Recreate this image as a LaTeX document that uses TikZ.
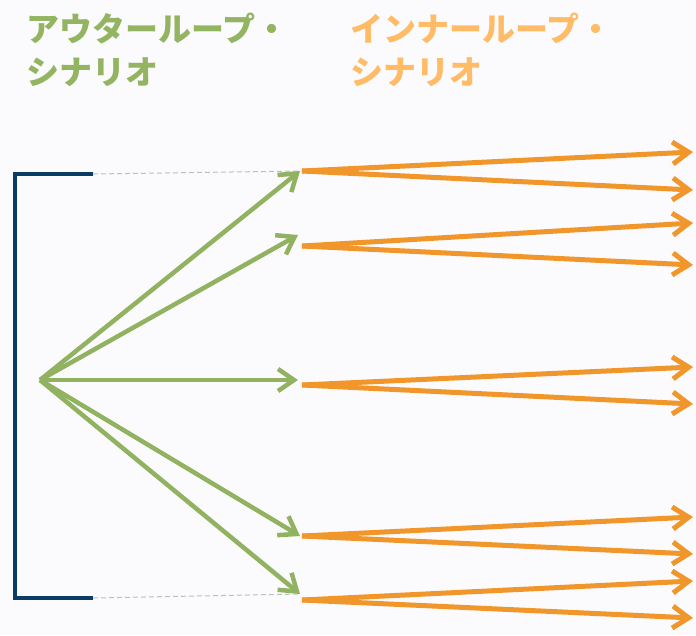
\documentclass[tikz,border=0pt]{standalone}
\usepackage{fontspec}
\newfontfamily\cjk{Noto Sans CJK JP}
\usetikzlibrary{arrows.meta}
\definecolor{bg}{RGB}{251,251,253}
\definecolor{navy}{RGB}{11,60,102}
\definecolor{ogreen}{RGB}{145,178,96}
\definecolor{iorange}{RGB}{241,150,42}
\definecolor{torange}{RGB}{255,187,102}
\definecolor{tgreen}{RGB}{147,180,97}
\definecolor{guidegray}{RGB}{190,190,192}
\tikzset{
  title/.style={anchor=north west, align=left, inner sep=0pt, font=\cjk\bfseries\fontsize{33}{43}\selectfont},
  garrow/.style={draw=ogreen, line width=4.5pt, -{Straight Barb[length=16pt,width=22pt]}},
  oarrow/.style={draw=iorange, line width=5pt, -{Straight Barb[length=16pt,width=22pt]}},
  guide/.style={draw=guidegray, dash pattern=on 5pt off 3pt, line width=1pt},
  bracket/.style={draw=navy, line width=4pt}
}
\begin{document}
\begin{tikzpicture}[x=1pt,y=-1pt]
\fill[bg] (0,0) rectangle (696,635);
\useasboundingbox (0,0) rectangle (696,635);
\node[title, text=tgreen] (tout) at (26,13) {アウターループ・\\シナリオ};
\node[title, text=torange] (tin) at (350,13) {インナーループ・\\シナリオ};
% bracket
\coordinate (bt) at (93,174);
\coordinate (bb) at (93,598);
\draw[bracket] (bt) -- (15,174) -- (15,598) -- (bb);
% green fan
\coordinate (o) at (40,380);
\coordinate (g1) at (300,171);
\coordinate (g2) at (298,235);
\coordinate (g3) at (298,380);
\coordinate (g4) at (300,536);
\coordinate (g5) at (300,594);
\draw[guide] (bt) -- (g1);
\draw[guide] (bb) -- (g5);
\foreach \g in {g1,g2,g3,g4,g5} \draw[garrow] (o) -- (\g);
% orange pairs
\coordinate (s1) at (302,171);
\coordinate (s2) at (302,246);
\coordinate (s3) at (302,385);
\coordinate (s4) at (302,536);
\coordinate (s5) at (302,600);
\coordinate (t1a) at (693,152);
\coordinate (t1b) at (693,190);
\coordinate (t2a) at (693,223);
\coordinate (t2b) at (693,265);
\coordinate (t3a) at (693,367);
\coordinate (t3b) at (693,404);
\coordinate (t4a) at (693,517);
\coordinate (t4b) at (693,554);
\coordinate (t5a) at (693,581);
\coordinate (t5b) at (693,618);
\foreach \i in {1,...,5} {
  \draw[oarrow] (s\i) -- (t\i a);
  \draw[oarrow] (s\i) -- (t\i b);
}
\end{tikzpicture}
\end{document}
